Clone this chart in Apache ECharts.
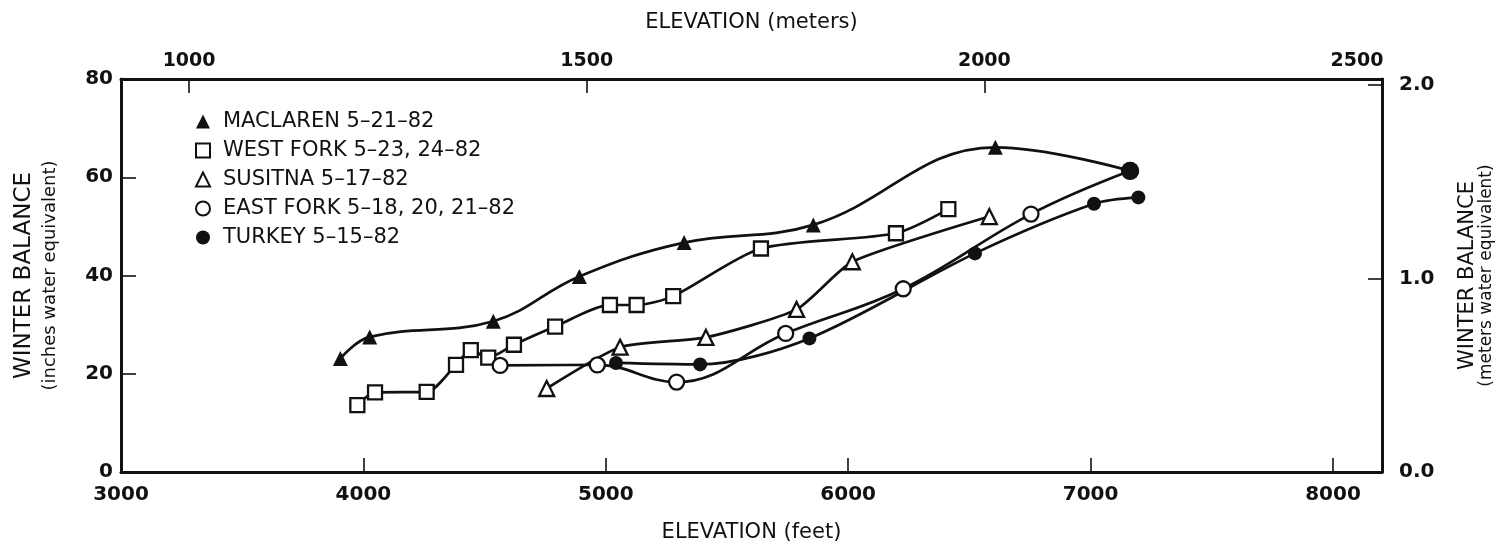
<!DOCTYPE html>
<html>
<head>
<meta charset="utf-8">
<title>Winter balance vs elevation</title>
<script src="https://cdn.jsdelivr.net/npm/echarts@6/dist/echarts.min.js"></script>
<style>
  html, body { margin: 0; padding: 0; background: #fff; }
  #chart { width: 1498px; height: 544px; }
</style>
</head>
<body>
<div id="chart"></div>
<script>
// Winter balance (inches water equivalent) against elevation (feet), spring 1982
const maclaren = [[3905, 23.1], [4026, 27.5], [4536, 30.7], [4891, 39.8], [5323, 46.7], [5856, 50.3], [6607, 66.1], [7163, 61.3]];
const westFork = [[3975, 13.6], [4048, 16.2], [4261, 16.3], [4382, 21.8], [4443, 24.8], [4515, 23.3], [4621, 25.9], [4791, 29.6], [5017, 34.0], [5127, 34.0], [5278, 35.8], [5640, 45.5], [6197, 48.6], [6413, 53.5]];
const susitna = [[4756, 17.0], [5059, 25.4], [5413, 27.4], [5787, 33.1], [6017, 42.8], [6582, 52.0]];
const eastFork = [[4564, 21.7], [4965, 21.8], [5292, 18.3], [5742, 28.2], [6227, 37.3], [6754, 52.5], [7163, 61.3]];
const turkey = [[5042, 22.2], [5389, 21.9], [5840, 27.2], [6523, 44.5], [7014, 54.6], [7197, 55.9]];

const seriesNames = ['MACLAREN 5–21–82', 'WEST FORK 5–23, 24–82', 'SUSITNA 5–17–82', 'EAST FORK 5–18, 20, 21–82', 'TURKEY 5–15–82'];

// axis ticks and labels
const feetTicks = [4000, 5000, 6000, 7000, 8000];
const meterLabels = [1000, 1500, 2000, 2500];
const meterTicks = [1000, 1500, 2000];
const inchTicks = [20, 40, 60];
const meterBalanceLabels = [0, 1, 2];
const meterBalanceTicks = [1, 2];

const FT_TO_M = 0.3048;
const IN_TO_M = 0.0254;
const FT_MIN = 3000;
const FT_MAX = 2500 / FT_TO_M;
const IN_MAX = 80;

const INK = '#111';
const FONT = 'DejaVu Sans';

function lineSeries(name, pts, symbol, filled, size, smooth, jointEnd) {
  const data = pts.map((p, i) => {
    // the Maclaren and East Fork curves meet in one solid dot at their upper end
    if (jointEnd && i === pts.length - 1) {
      return { value: p, symbol: 'circle', symbolSize: 18, itemStyle: { color: INK, borderWidth: 0 } };
    }
    return p;
  });
  return {
    type: 'line',
    name,
    data,
    smooth,
    symbol,
    symbolSize: size,
    showAllSymbol: true,
    lineStyle: { color: INK, width: 2.7 },
    itemStyle: { color: filled ? INK : '#fff', borderColor: INK, borderWidth: filled ? 0 : 2.3 },
    emphasis: { disabled: true },
    xAxisIndex: 0,
    yAxisIndex: 0
  };
}

const series = [
  lineSeries(seriesNames[0], maclaren, 'triangle', true, 15, 0.4, true),
  lineSeries(seriesNames[1], westFork, 'rect', false, 14, 0.25, false),
  lineSeries(seriesNames[2], susitna, 'triangle', false, 15, 0.2, false),
  lineSeries(seriesNames[3], eastFork, 'circle', false, 15, 0.4, true),
  lineSeries(seriesNames[4], turkey, 'circle', true, 14, 0.3, false)
];

const legendIcons = [
  { icon: 'triangle', color: INK, borderWidth: 0 },
  { icon: 'rect', color: '#fff', borderWidth: 2 },
  { icon: 'triangle', color: '#fff', borderWidth: 2 },
  { icon: 'circle', color: '#fff', borderWidth: 2 },
  { icon: 'circle', color: INK, borderWidth: 0 }
];

const tickLabel = { color: INK, fontFamily: FONT, fontSize: 20, fontWeight: 'bold' };
const axisLine = { show: true, onZero: false, lineStyle: { color: INK, width: 3 } };
const tickStyle = { color: INK, width: 1.6 };

const option = {
  animation: false,
  backgroundColor: '#fff',
  grid: { left: 121, right: 116, top: 79, bottom: 72, outerBoundsMode: 'none', containLabel: false },
  legend: {
    orient: 'vertical',
    left: 190,
    top: 106,
    itemWidth: 14,
    itemHeight: 14,
    itemGap: 8,
    selectedMode: false,
    textStyle: { color: INK, fontFamily: FONT, fontSize: 21, lineHeight: 21, padding: [0, 0, 0, 8] },
    data: seriesNames.map((n, i) => ({
      name: n,
      icon: legendIcons[i].icon,
      itemStyle: { color: legendIcons[i].color, borderColor: INK, borderWidth: legendIcons[i].borderWidth }
    }))
  },
  xAxis: [
    {
      type: 'value',
      position: 'bottom',
      min: FT_MIN,
      max: FT_MAX,
      interval: 1000,
      name: 'ELEVATION (feet)',
      nameLocation: 'middle',
      nameGap: 50,
      nameMoveOverlap: false,
      nameTextStyle: { color: INK, fontFamily: FONT, fontSize: 21 },
      axisLine,
      axisTick: { show: true, inside: true, length: 14, lineStyle: tickStyle, customValues: feetTicks },
      axisLabel: Object.assign({ margin: 13, showMaxLabel: false, formatter: v => String(v) }, tickLabel),
      splitLine: { show: false }
    },
    {
      type: 'value',
      position: 'top',
      min: FT_MIN * FT_TO_M,
      max: FT_MAX * FT_TO_M,
      name: 'ELEVATION (meters)',
      nameLocation: 'middle',
      nameGap: 46,
      nameMoveOverlap: false,
      nameTextStyle: { color: INK, fontFamily: FONT, fontSize: 21 },
      axisLine,
      axisTick: { show: true, inside: true, length: 14, lineStyle: tickStyle, customValues: meterTicks },
      axisLabel: Object.assign({}, tickLabel, {
        margin: 8,
        fontSize: 19,
        customValues: meterLabels,
        formatter: v => (v === 2500 ? '{end|2500}' : String(v)),
        rich: { end: { color: INK, fontFamily: FONT, fontSize: 19, fontWeight: 'bold', padding: [0, 50, 0, 0] } }
      }),
      splitLine: { show: false }
    }
  ],
  yAxis: [
    {
      type: 'value',
      position: 'left',
      min: 0,
      max: IN_MAX,
      interval: 20,
      name: '{a|WINTER BALANCE}\n{b|(inches water equivalent)}',
      nameLocation: 'middle',
      nameRotate: 90,
      nameGap: 58,
      nameMoveOverlap: false,
      nameTextStyle: {
        color: INK,
        fontFamily: FONT,
        rich: {
          a: { color: INK, fontFamily: FONT, fontSize: 23, lineHeight: 26 },
          b: { color: INK, fontFamily: FONT, fontSize: 18, lineHeight: 26 }
        }
      },
      axisLine,
      axisTick: { show: true, inside: true, length: 15, lineStyle: tickStyle, customValues: inchTicks },
      axisLabel: Object.assign({ margin: 8 }, tickLabel),
      splitLine: { show: false }
    },
    {
      type: 'value',
      position: 'right',
      min: 0,
      max: IN_MAX * IN_TO_M,
      name: '{a|WINTER BALANCE}\n{b|(meters water equivalent)}',
      nameLocation: 'middle',
      nameRotate: 90,
      nameGap: 76,
      nameMoveOverlap: false,
      nameTextStyle: {
        color: INK,
        fontFamily: FONT,
        rich: {
          a: { color: INK, fontFamily: FONT, fontSize: 21, lineHeight: 20 },
          b: { color: INK, fontFamily: FONT, fontSize: 17, lineHeight: 18 }
        }
      },
      axisLine,
      axisTick: { show: true, inside: true, length: 14, lineStyle: tickStyle, customValues: meterBalanceTicks },
      axisLabel: Object.assign({
        margin: 17,
        customValues: meterBalanceLabels,
        formatter: v => v.toFixed(1)
      }, tickLabel),
      splitLine: { show: false }
    }
  ],
  series
};

const chart = echarts.init(document.getElementById('chart'), null, { renderer: 'canvas' });
chart.setOption(option);
</script>
</body>
</html>
